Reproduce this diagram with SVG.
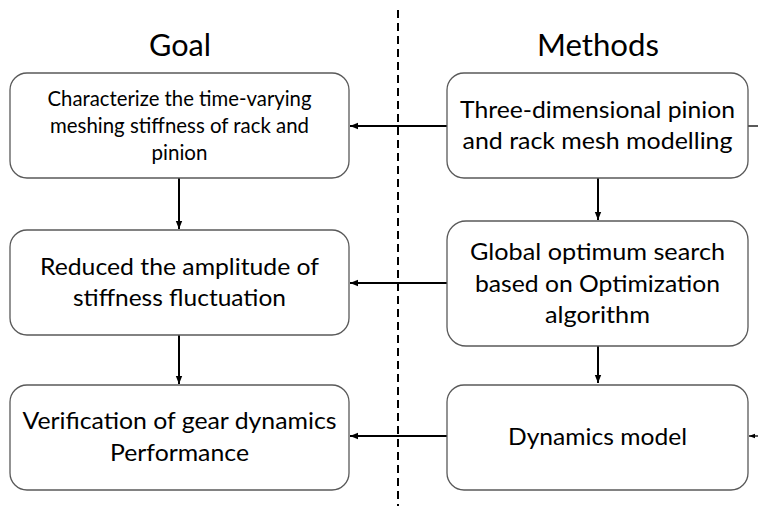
<svg xmlns="http://www.w3.org/2000/svg" width="758" height="506" viewBox="0 0 758 506">
<style>
.box{fill:#ffffff;stroke:#595959;stroke-width:1.3}
.t{font-family:Lato,"Open Sans","Liberation Sans",sans-serif;fill:#000;text-anchor:middle}
.h{font-size:30px}
.m{font-size:24px}
.s{font-size:20.5px}
.c{stroke:#000;stroke-width:2;fill:none}
.c1{stroke:#000;stroke-width:1.3;fill:none}
.d{stroke:#000;stroke-width:2;stroke-dasharray:8 5;fill:none}
</style>
<defs>
<marker id="ah" markerUnits="userSpaceOnUse" markerWidth="8" markerHeight="8" viewBox="0 0 8 8" refX="8" refY="4" orient="auto">
<path d="M0,0.8 L8,4 L0,7.2 Z" fill="#000"/>
</marker>
<marker id="ahs" markerUnits="userSpaceOnUse" markerWidth="6" markerHeight="6" viewBox="0 0 6 6" refX="6" refY="3" orient="auto">
<path d="M0,0.8 L6,3 L0,5.2 Z" fill="#000"/>
</marker>
</defs>
<line class="d" x1="398" y1="10" x2="398" y2="506"/>
<text class="t h" x="180" y="56" textLength="62" lengthAdjust="spacingAndGlyphs">Goal</text>
<text class="t h" x="598" y="56" textLength="122" lengthAdjust="spacingAndGlyphs">Methods</text>
<g id="connectors">
<line class="c" x1="447" y1="126" x2="350" y2="126" marker-end="url(#ah)"/>
<line class="c" x1="447" y1="283" x2="350" y2="283" marker-end="url(#ah)"/>
<line class="c" x1="447" y1="436" x2="350" y2="436" marker-end="url(#ah)"/>
<line class="c" x1="179" y1="178" x2="179" y2="229" marker-end="url(#ah)"/>
<line class="c" x1="179" y1="335" x2="179" y2="384" marker-end="url(#ah)"/>
<line class="c" x1="598" y1="178" x2="598" y2="220" marker-end="url(#ah)"/>
<line class="c" x1="598" y1="346" x2="598" y2="383" marker-end="url(#ah)"/>
<line class="c1" x1="748" y1="126" x2="758" y2="126"/>
<line class="c1" x1="758" y1="436" x2="749" y2="436" marker-end="url(#ahs)"/>
</g>
<g id="goal1">
<rect class="box" x="10" y="73" width="339" height="105" rx="17"/>
<text class="t s" x="179.5" y="106" textLength="264" lengthAdjust="spacingAndGlyphs">Characterize the time-varying</text>
<text class="t s" x="179.5" y="133" textLength="259" lengthAdjust="spacingAndGlyphs">meshing stiffness of rack and</text>
<text class="t s" x="179.5" y="160" textLength="56" lengthAdjust="spacingAndGlyphs">pinion</text>
</g>
<g id="goal2">
<rect class="box" x="10" y="230" width="339" height="105" rx="17"/>
<text class="t m" x="179.5" y="275" textLength="279" lengthAdjust="spacingAndGlyphs">Reduced the amplitude of</text>
<text class="t m" x="179.5" y="306" textLength="213" lengthAdjust="spacingAndGlyphs">stiffness fluctuation</text>
</g>
<g id="goal3">
<rect class="box" x="10" y="385" width="339" height="105" rx="17"/>
<text class="t m" x="179.5" y="429" textLength="314" lengthAdjust="spacingAndGlyphs">Verification of gear dynamics</text>
<text class="t m" x="179.5" y="461" textLength="139" lengthAdjust="spacingAndGlyphs">Performance</text>
</g>
<g id="method1">
<rect class="box" x="447" y="73" width="301" height="105" rx="17"/>
<text class="t m" x="597.5" y="118" textLength="275" lengthAdjust="spacingAndGlyphs">Three-dimensional pinion</text>
<text class="t m" x="597.5" y="149" textLength="270" lengthAdjust="spacingAndGlyphs">and rack mesh modelling</text>
</g>
<g id="method2">
<rect class="box" x="447" y="221" width="301" height="125" rx="19"/>
<text class="t m" x="597.5" y="260" textLength="255" lengthAdjust="spacingAndGlyphs">Global optimum search</text>
<text class="t m" x="597.5" y="292" textLength="245" lengthAdjust="spacingAndGlyphs">based on Optimization</text>
<text class="t m" x="597.5" y="323" textLength="105" lengthAdjust="spacingAndGlyphs">algorithm</text>
</g>
<g id="method3">
<rect class="box" x="447" y="385" width="301" height="105" rx="17"/>
<text class="t m" x="597.5" y="445" textLength="179" lengthAdjust="spacingAndGlyphs">Dynamics model</text>
</g>
</svg>
